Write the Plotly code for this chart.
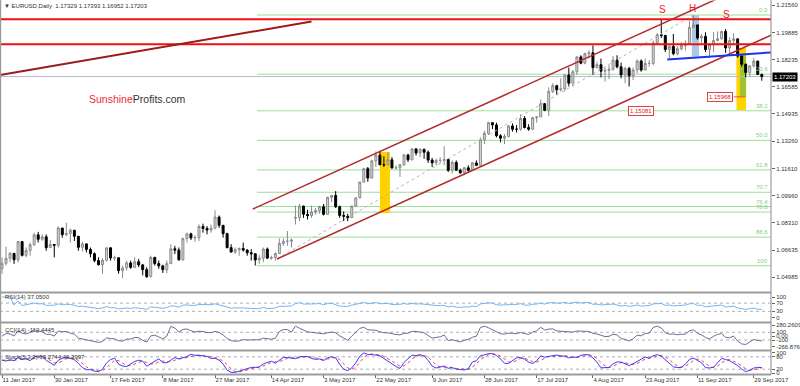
import plotly.graph_objects as go
import pandas as pd

# ---------------- data ----------------
dates = pd.bdate_range("2017-01-11", "2017-10-03")

close = [
1.0584,1.0614,1.0644,1.0605,1.0716,1.0632,1.0662,1.0697,1.0757,1.0730,
1.0745,1.0679,1.0698,1.0694,1.0798,
1.0758,1.0765,1.0785,1.0748,1.0681,1.0702,1.0668,1.0642,1.0600,1.0575,
1.0602,1.0678,1.0616,1.0617,1.0539,1.0555,1.0586,1.0559,1.0593,1.0574,
1.0545,1.0502,1.0620,1.0582,1.0568,1.0545,1.0582,1.0672,1.0664,1.0605,
1.0734,1.0763,1.0738,1.0740,1.0808,1.0796,1.0786,1.0798,1.0865,1.0815,
1.0764,1.0679,1.0652,
1.0667,1.0674,1.0664,1.0648,1.0642,1.0604,1.0615,1.0670,1.0615,1.0619,
1.0643,1.0705,1.0718,1.0718,1.0725,1.0862,1.0932,1.0882,1.0874,1.0896,
1.0905,1.0928,1.0882,1.0985,1.0997,1.0928,1.0875,1.0870,1.0862,1.0932,
1.0982,1.1078,1.1160,1.1103,1.1207,1.1242,1.1184,1.1183,1.1214,1.1164,
1.1165,1.1184,1.1243,
1.1214,1.1280,1.1255,1.1277,1.1260,1.1212,1.1195,1.1210,1.1210,1.1215,
1.1150,1.1198,1.1150,1.1134,1.1165,1.1150,1.1195,1.1180,1.1335,1.1375,
1.1440,1.1426,
1.1360,1.1345,1.1356,1.1420,1.1400,1.1400,1.1465,1.1410,1.1400,1.1470,
1.1475,1.1555,1.1515,1.1630,1.1665,1.1640,1.1645,1.1730,1.1680,1.1750,
1.1840,
1.1802,1.1860,1.1865,1.1775,1.1793,1.1753,1.1758,1.1765,1.1820,1.1780,
1.1730,1.1770,1.1725,1.1760,1.1815,1.1760,1.1800,1.1800,1.1925,1.1975,
1.1970,1.1885,1.1905,
1.1860,1.1890,1.1910,1.1920,1.2020,1.2035,1.1955,1.1965,1.1885,1.1915,
1.1940,1.1950,1.1995,1.1895,1.1940,1.1950,1.1845,1.1795,1.1745,1.1785,
1.1815,1.1733,1.17203,
]
high = [
1.0620,1.0685,1.0653,1.0630,1.0718,1.0718,1.0680,1.0710,1.0770,1.0775,
1.0760,1.0760,1.0725,1.0700,1.0810,
1.0800,1.0830,1.0795,1.0780,1.0750,1.0715,1.0700,1.0680,1.0650,1.0620,
1.0615,1.0680,1.0680,1.0630,1.0620,1.0570,1.0600,1.0600,1.0620,1.0610,
1.0580,1.0560,1.0630,1.0610,1.0600,1.0575,1.0600,1.0700,1.0690,1.0680,
1.0740,1.0770,1.0770,1.0755,1.0820,1.0825,1.0810,1.0820,1.0906,1.0875,
1.0815,1.0770,1.0700,
1.0680,1.0680,1.0710,1.0670,1.0670,1.0620,1.0635,1.0680,1.0680,1.0630,
1.0650,1.0735,1.0735,1.0780,1.0735,1.0935,1.0945,1.0935,1.0910,1.0935,
1.0920,1.0935,1.0945,1.0990,1.0995,1.1023,1.0935,1.0900,1.0885,1.0935,
1.0985,1.1080,1.1165,1.1170,1.1215,1.1265,1.1268,1.1235,1.1260,1.1230,
1.1180,1.1185,1.1250,
1.1250,1.1285,1.1285,1.1285,1.1282,1.1270,1.1225,1.1220,1.1230,1.1296,
1.1215,1.1210,1.1210,1.1160,1.1170,1.1180,1.1200,1.1210,1.1350,1.1390,
1.1445,1.1440,
1.1440,1.1370,1.1370,1.1425,1.1435,1.1425,1.1490,1.1480,1.1430,1.1475,
1.1480,1.1580,1.1560,1.1655,1.1680,1.1670,1.1710,1.1735,1.1775,1.1760,
1.1845,
1.1850,1.1865,1.1880,1.1910,1.1810,1.1830,1.1775,1.1790,1.1845,1.1850,
1.1805,1.1780,1.1780,1.1775,1.1825,1.1825,1.1830,1.1820,1.1940,1.1985,
1.2070,1.1975,1.1910,
1.1980,1.1905,1.1930,1.1940,1.2060,1.2092,1.2030,1.1980,1.1990,1.1920,
1.1990,1.1995,1.2000,1.2010,1.1960,1.1985,1.1950,1.1850,1.1800,1.1790,
1.1835,1.1815,1.17393,
]
low = [
1.0520,1.0570,1.0590,1.0580,1.0590,1.0625,1.0620,1.0630,1.0690,1.0710,
1.0720,1.0660,1.0680,1.0620,1.0680,
1.0740,1.0750,1.0710,1.0720,1.0660,1.0655,1.0650,1.0620,1.0590,1.0570,
1.0520,1.0595,1.0600,1.0600,1.0520,1.0493,1.0540,1.0550,1.0570,1.0560,
1.0510,1.0495,1.0500,1.0570,1.0550,1.0525,1.0525,1.0580,1.0640,1.0600,
1.0600,1.0710,1.0725,1.0715,1.0720,1.0770,1.0760,1.0770,1.0790,1.0800,
1.0740,1.0675,1.0650,
1.0640,1.0630,1.0655,1.0630,1.0600,1.0570,1.0580,1.0590,1.0610,1.0605,
1.0600,1.0640,1.0690,1.0690,1.0680,1.0820,1.0840,1.0860,1.0850,1.0860,
1.0880,1.0885,1.0875,1.0880,1.0955,1.0920,1.0860,1.0840,1.0840,1.0860,
1.0925,1.0980,1.1075,1.1080,1.1100,1.1170,1.1180,1.1170,1.1190,1.1160,
1.1155,1.1110,1.1175,
1.1200,1.1210,1.1240,1.1230,1.1220,1.1195,1.1170,1.1180,1.1190,1.1180,
1.1140,1.1130,1.1145,1.1130,1.1120,1.1140,1.1150,1.1175,1.1180,1.1310,
1.1365,1.1400,
1.1350,1.1320,1.1310,1.1350,1.1385,1.1380,1.1390,1.1405,1.1390,1.1395,
1.1440,1.1475,1.1510,1.1480,1.1620,1.1610,1.1630,1.1630,1.1660,1.1660,
1.1730,
1.1795,1.1795,1.1830,1.1730,1.1770,1.1715,1.1690,1.1705,1.1755,1.1770,
1.1710,1.1680,1.1660,1.1700,1.1740,1.1750,1.1765,1.1780,1.1790,1.1920,
1.1955,1.1870,1.1825,
1.1850,1.1850,1.1880,1.1880,1.1915,1.2015,1.1945,1.1920,1.1870,1.1835,
1.1870,1.1935,1.1945,1.1865,1.1860,1.1910,1.1835,1.1780,1.1717,1.1720,
1.1775,1.1730,1.16952,
]
first_open = 1.0552
gap_opens = {73: 1.0858}          # weekend gap (24 Apr 2017)

tick_dates = ["2017-01-11", "2017-01-30", "2017-02-17", "2017-03-08", "2017-03-27",
              "2017-04-14", "2017-05-03", "2017-05-22", "2017-06-09", "2017-06-28",
              "2017-07-17", "2017-08-04", "2017-08-23", "2017-09-11", "2017-09-29"]
tick_text = ["11 Jan 2017", "30 Jan 2017", "17 Feb 2017", "8 Mar 2017", "27 Mar 2017",
             "14 Apr 2017", "3 May 2017", "22 May 2017", "9 Jun 2017", "28 Jun 2017",
             "17 Jul 2017", "4 Aug 2017", "23 Aug 2017", "11 Sep 2017", "29 Sep 2017"]

price_ticks = [1.21560, 1.19885, 1.18235, 1.16585, 1.14935, 1.13260,
               1.11610, 1.09960, 1.08310, 1.06635, 1.04985]
last_price = 1.17203
title_text = "\u25bc EURUSD,Daily  1.17329 1.17393 1.16952 1.17203"
rsi_label = "RSI(14) 37.0500"
cci_label = "CCI(14) -112.4445"
stoch_label = "Stoch(5,3,3) 33.2744 40.3997"
cci_max, cci_min = 280.2609, -266.8764

# drawings (bar index, price)
long_trend = [(-0.5, 1.1730), (77.0, 1.2055)]
channel_upper = [(62.4, 1.0914), (191.3, 1.2342)]
channel_lower = [(68.4, 1.0610), (191.3, 1.1972)]
fib_diag = [(68.4, 1.0610), (172.0, 1.2095)]
neckline = [(165.5, 1.1824), (191.3, 1.1867)]
red_levels = [1.2070, 1.1917]
fib_start = 63.4
fib_high, fib_low = 1.2095, 1.0569
fib_ratios = [0.0, 23.6, 38.2, 50.0, 61.8, 70.7, 76.4, 78.6, 88.6, 100.0]
fib_names = ["0.0", "23.6", "38.2", "50.0", "61.8", "70.7", "76.4", "78.6", "88.6", "100"]
rects = [  # x0, x1, y0, y1, colour
    (171.6, 173.4, 1.1843, 1.2095, "#a9c9e6"),
    (94.0, 96.5, 1.0890, 1.1261, "#ffd200"),
    (182.7, 185.1, 1.1517, 1.1894, "#ffd200"),
    (183.6, 185.1, 1.1596, 1.1852, "#9cc62c"),
]
price_labels = [(159.0, 1.15081, "1.15081"), (178.7, 1.15968, "1.15968")]
label_link = [(182.0, 1.15968), (184.8, 1.15968)]
shs = [(164.2, 1.2128, "S"), (171.8, 1.2136, "H"), (180.1, 1.2101, "S")]

# ---------------- derived ----------------
n = len(close)
idx = list(range(n))
opens = [first_open] + close[:-1]
for k, v in gap_opens.items():
    opens[k] = v
hi = [max(h, o, c) for h, o, c in zip(high, opens, close)]
lo = [min(l, o, c) for l, o, c in zip(low, opens, close)]

# RSI(14) Wilder
rsi = [None] * n
ag = al = 0.0
for k in range(1, n):
    d = close[k] - close[k - 1]
    g, l_ = max(d, 0), max(-d, 0)
    if k <= 14:
        ag = (ag * (k - 1) + g) / k
        al = (al * (k - 1) + l_) / k
    else:
        ag = (ag * 13 + g) / 14
        al = (al * 13 + l_) / 14
    rsi[k] = 100.0 if al == 0 else 100 - 100 / (1 + ag / al)
rsi[0] = rsi[1]

# CCI(14)
tp = [(h + l + c) / 3 for h, l, c in zip(hi, lo, close)]
cci = []
for k in range(n):
    w = tp[max(0, k - 13):k + 1]
    m = sum(w) / len(w)
    md = sum(abs(v - m) for v in w) / len(w)
    cci.append(0.0 if md == 0 else (tp[k] - m) / (0.015 * md))

# Stochastic(5,3,3)
hh = [max(hi[max(0, k - 4):k + 1]) for k in range(n)]
ll = [min(lo[max(0, k - 4):k + 1]) for k in range(n)]
stk = []
for k in range(n):
    js = range(max(0, k - 2), k + 1)
    num = sum(close[j] - ll[j] for j in js)
    den = sum(hh[j] - ll[j] for j in js)
    stk.append(50.0 if den == 0 else 100 * num / den)
std = [sum(stk[max(0, k - 2):k + 1]) / len(stk[max(0, k - 2):k + 1]) for k in range(n)]

# ---------------- figure ----------------
W, H = 800, 386
PLOT_R = 771
def py(p):
    return 1 - p / H
def px(p):
    return p / W

FONT = "Liberation Sans"
x_range = [-2 / 4.02, (PLOT_R - 2) / 4.02]

fig = go.Figure()

# fib level lines
for r in fib_ratios:
    lvl = fib_high - r / 100 * (fib_high - fib_low)
    fig.add_shape(type="line", xref="x", yref="y", x0=fib_start, x1=x_range[1],
                  y0=lvl, y1=lvl, line=dict(color="#98e098", width=1), layer="below")
for (x0, x1, y0, y1, col) in rects:
    fig.add_shape(type="rect", xref="x", yref="y", x0=x0, x1=x1, y0=y0, y1=y1,
                  fillcolor=col, line=dict(width=0), layer="below")
# bid line
fig.add_shape(type="line", xref="x", yref="y", x0=x_range[0], x1=x_range[1],
              y0=last_price, y1=last_price, line=dict(color="#b8b8c8", width=1), layer="below")

def seg(pts, color, width, dash="solid", yaxis="y"):
    fig.add_trace(go.Scatter(x=[p[0] for p in pts], y=[p[1] for p in pts], mode="lines",
                             line=dict(color=color, width=width, dash=dash),
                             hoverinfo="skip", showlegend=False, yaxis=yaxis))

seg(fib_diag, "#b4b4b4", 1, "dot")
for lv in red_levels:
    seg([(x_range[0], lv), (x_range[1], lv)], "#f01010", 2)
seg(long_trend, "#9e1a1a", 2)
seg(channel_upper, "#b22a2a", 1.5)
seg(channel_lower, "#b22a2a", 1.5)
seg(neckline, "#1a35f0", 2)
seg(label_link, "#e05050", 1)

fig.add_trace(go.Candlestick(
    x=idx, open=opens, high=hi, low=lo, close=close,
    increasing=dict(line=dict(color="#8a8a8a", width=1), fillcolor="#dadada"),
    decreasing=dict(line=dict(color="#000000", width=1), fillcolor="#000000"),
    whiskerwidth=0, hoverinfo="skip", showlegend=False, yaxis="y"))

# indicators
fig.add_trace(go.Scatter(x=idx, y=rsi, mode="lines", line=dict(color="#72b4f2", width=1),
                         yaxis="y2", hoverinfo="skip", showlegend=False))
fig.add_trace(go.Scatter(x=idx, y=cci, mode="lines", line=dict(color="#6c6c96", width=1),
                         yaxis="y3", hoverinfo="skip", showlegend=False))
fig.add_trace(go.Scatter(x=idx, y=std, mode="lines", line=dict(color="#ff3b3b", width=1, dash="dot"),
                         yaxis="y4", hoverinfo="skip", showlegend=False))
fig.add_trace(go.Scatter(x=idx, y=stk, mode="lines", line=dict(color="#3a3aff", width=1),
                         yaxis="y4", hoverinfo="skip", showlegend=False))

for yref, lv in [("y2", 70), ("y2", 30), ("y3", 100), ("y3", -100), ("y4", 80), ("y4", 20)]:
    fig.add_shape(type="line", xref="x domain", yref=yref, x0=0, x1=1, y0=lv, y1=lv,
                  line=dict(color="#b0b0b0", width=1, dash="dot"), layer="below")

# panel frames
grey = "#9c9c9c"
for yy in [292.5, 322.5, 350.5, 374.5]:
    fig.add_shape(type="line", xref="paper", yref="paper", x0=0, x1=px(PLOT_R),
                  y0=py(yy), y1=py(yy), line=dict(color=grey, width=2))
for xx in [0.6, PLOT_R]:
    fig.add_shape(type="line", xref="paper", yref="paper", x0=px(xx), x1=px(xx),
                  y0=py(0), y1=py(374.5), line=dict(color=grey, width=1.2))

small = dict(family=FONT, size=6, color="#333333")
ann = []
ann.append(dict(text=title_text, xref="paper", yref="paper", x=px(2), y=py(1),
                xanchor="left", yanchor="top", showarrow=False, font=small))
ann.append(dict(text="<span style='color:#ef2b3a'>Sunshine</span>"
                     "<span style='color:#333333'>Profits.com</span>",
                xref="paper", yref="paper", x=px(137.5), y=py(99), xanchor="center",
                yanchor="middle", showarrow=False, font=dict(family=FONT, size=10.5)))
for lab, yy in [(rsi_label, 297), (cci_label, 329.5), (stoch_label, 356.5)]:
    ann.append(dict(text=lab, xref="paper", yref="paper", x=px(3), y=py(yy),
                    xanchor="left", yanchor="middle", showarrow=False, font=small))
for r, name in zip(fib_ratios, fib_names):
    lvl = fib_high - r / 100 * (fib_high - fib_low)
    ann.append(dict(text=name, xref="paper", yref="y", x=px(PLOT_R - 1), y=lvl,
                    xanchor="right", yanchor="bottom", showarrow=False,
                    font=dict(family=FONT, size=6, color="#7fcf7f")))
for xi, pr, t in price_labels:
    ann.append(dict(text=t, xref="x", yref="y", x=xi, y=pr, xanchor="center", yanchor="middle",
                    showarrow=False, font=dict(family=FONT, size=6, color="#e02020"),
                    bgcolor="white", bordercolor="#e04040", borderwidth=1, borderpad=1))
for xi, pr, t in shs:
    ann.append(dict(text=t, xref="x", yref="y", x=xi, y=pr, xanchor="center", yanchor="middle",
                    showarrow=False, font=dict(family=FONT, size=10, color="#f02020")))
ann.append(dict(text=f"{last_price:.5f}", xref="paper", yref="y", x=px(PLOT_R + 1), y=last_price,
                xanchor="left", yanchor="middle", showarrow=False,
                font=dict(family=FONT, size=6, color="white"), bgcolor="black", borderpad=1))

tick_idx = [list(dates.strftime("%Y-%m-%d")).index(d) for d in tick_dates]

yax = dict(side="right", anchor="x", showgrid=False, zeroline=False, showline=False,
           automargin=False,
           ticks="outside", ticklen=3, tickcolor="#666666", tickfont=small, fixedrange=True)

fig.update_layout(
    width=W, height=H, margin=dict(l=0, r=0, t=0, b=0, autoexpand=False),
    paper_bgcolor="white", plot_bgcolor="white", showlegend=False, hovermode=False,
    annotations=ann,
    xaxis=dict(domain=[0, px(PLOT_R)], range=x_range, anchor="y4", showgrid=False,
               zeroline=False, showline=False, rangeslider=dict(visible=False),
               automargin=False,
               tickvals=tick_idx, ticktext=tick_text, ticklabelposition="outside right",
               ticks="outside", ticklen=3, tickcolor="#666666", tickfont=small, fixedrange=True),
    yaxis=dict(domain=[py(292), py(0.5)], range=[1.04090, 1.21834],
               tickvals=price_ticks, ticktext=[f"{v:.5f}" for v in price_ticks], **yax),
    yaxis2=dict(domain=[py(322), py(293.5)], range=[-21.95, 117.1],
                tickvals=[100, 70, 30, 0], ticktext=["100", "70", "30", "0"], **yax),
    yaxis3=dict(domain=[py(350), py(323.5)], range=[-359.7, 328.6],
                tickvals=[cci_max, 100, 0, -100, cci_min],
                ticktext=[f"{cci_max:.4f}", "100", "0.00", "-100", f"{cci_min:.4f}"], **yax),
    yaxis4=dict(domain=[py(374), py(351.5)], range=[-3.4, 105.8],
                tickvals=[100, 80, 20, 0], ticktext=["100", "80", "20", "0"], **yax),
)

fig.write_html("out.html", config={"displayModeBar": False},
               post_script="document.body.style.margin='0';document.body.style.overflow='hidden';")
